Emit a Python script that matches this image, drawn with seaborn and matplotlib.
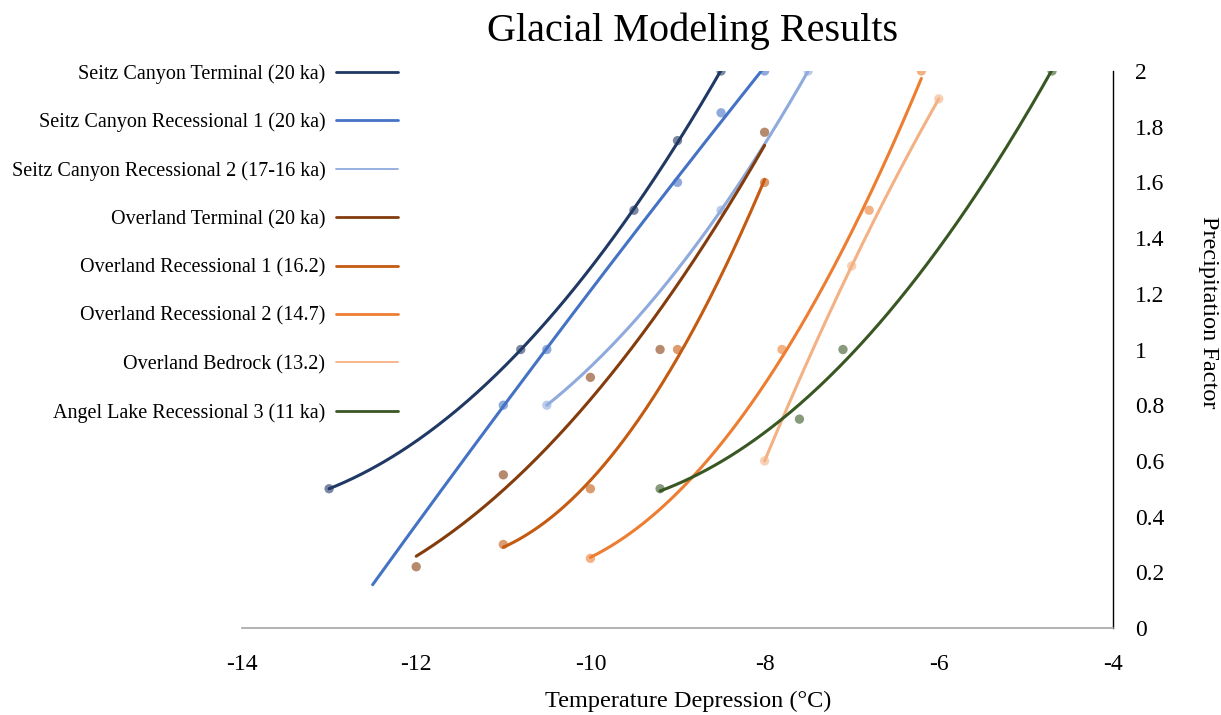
import numpy as np
import pandas as pd
import matplotlib
matplotlib.use("Agg")
import matplotlib.pyplot as plt
from matplotlib.lines import Line2D
import seaborn as sns

# ---- data ----
series_names = [
    "Seitz Canyon Terminal (20 ka)",
    "Seitz Canyon Recessional 1 (20 ka)",
    "Seitz Canyon Recessional 2 (17-16 ka)",
    "Overland Terminal (20 ka)",
    "Overland Recessional 1 (16.2)",
    "Overland Recessional 2 (14.7)",
    "Overland Bedrock (13.2)",
    "Angel Lake Recessional 3 (11 ka)",
]
sc_term_x = [-13.0, -10.8, -9.5, -9.0, -8.5]
sc_term_y = [0.5, 1.0, 1.5, 1.75, 2.0]
sc_rec1_x = [-11.0, -10.5, -9.0, -8.5, -8.0]
sc_rec1_y = [0.8, 1.0, 1.6, 1.85, 2.0]
sc_rec2_x = [-10.5, -8.5, -7.5]
sc_rec2_y = [0.8, 1.5, 2.0]
ov_term_x = [-12.0, -11.0, -10.0, -9.2, -8.0]
ov_term_y = [0.22, 0.55, 0.9, 1.0, 1.78]
ov_rec1_x = [-11.0, -10.0, -9.0, -8.0]
ov_rec1_y = [0.3, 0.5, 1.0, 1.6]
ov_rec2_x = [-10.0, -7.8, -6.8, -6.2]
ov_rec2_y = [0.25, 1.0, 1.5, 2.0]
ov_bed_x = [-8.0, -7.0, -6.0]
ov_bed_y = [0.6, 1.3, 1.9]
al_rec3_x = [-9.2, -7.6, -7.1, -4.7]
al_rec3_y = [0.5, 0.75, 1.0, 2.0]
# backward forecast of the trendline (x units), as in the source chart
backward_forecast = [0, 1.5, 0, 0, 0, 0, 0, 0]

xs_all = [sc_term_x, sc_rec1_x, sc_rec2_x, ov_term_x, ov_rec1_x, ov_rec2_x, ov_bed_x, al_rec3_x]
ys_all = [sc_term_y, sc_rec1_y, sc_rec2_y, ov_term_y, ov_rec1_y, ov_rec2_y, ov_bed_y, al_rec3_y]

colors = ["#203864", "#4472C4", "#8FAADC", "#843C0C", "#C55A11", "#ED7D31", "#F4B183", "#385723"]
palette = dict(zip(series_names, colors))

# build tables
pts = pd.concat([pd.DataFrame({"x": x, "y": y, "series": n})
                 for n, x, y in zip(series_names, xs_all, ys_all)], ignore_index=True)
trend_frames = []
for n, x, y, bf in zip(series_names, xs_all, ys_all, backward_forecast):
    c = np.polyfit(x, y, 2)
    xx = np.linspace(min(x) - bf, max(x), 200)
    trend_frames.append(pd.DataFrame({"x": xx, "y": np.polyval(c, xx), "series": n}))
trend = pd.concat(trend_frames, ignore_index=True)

# ---- plot ----
sns.set_theme(style="white")
plt.rcParams["font.family"] = ["Liberation Serif", "DejaVu Serif"]
plt.rcParams["text.color"] = "black"
plt.rcParams["xtick.color"] = "black"
plt.rcParams["ytick.color"] = "black"

fig = plt.figure(figsize=(12.21, 7.15), dpi=100)
ax = fig.add_axes([242 / 1221, 1 - 628 / 715, (1113 - 242) / 1221, (628 - 71) / 715])

sns.scatterplot(data=pts, x="x", y="y", hue="series", palette=palette, s=45,
                alpha=0.6, edgecolor="none", legend=False, ax=ax, zorder=2)
sns.lineplot(data=trend, x="x", y="y", hue="series", palette=palette, linewidth=2.2,
             legend=False, ax=ax, sort=False, estimator=None, zorder=3)

ax.set_xlim(-14, -4)
ax.set_ylim(0, 2)
ax.set_xticks(np.arange(-14, -3, 2))
ax.set_yticks(np.arange(0, 2.01, 0.2))
ax.set_xticklabels([f"{v:g}" for v in np.arange(-14, -3, 2)])
ax.set_yticklabels([f"{v:.1f}".rstrip("0").rstrip(".") if v != 0 else "0" for v in np.arange(0, 2.01, 0.2)])
ax.yaxis.tick_right()
ax.tick_params(axis="both", length=0, labelsize=17, colors="black")
ax.tick_params(axis="x", pad=19)
ax.tick_params(axis="y", pad=16)
for lab in ax.get_yticklabels():
    lab.set_ha("left")

ax.spines["left"].set_visible(False)
ax.spines["top"].set_visible(False)
ax.spines["right"].set_visible(True)
ax.spines["right"].set_color("black")
ax.spines["right"].set_linewidth(1.0)
ax.spines["bottom"].set_color("#a6a6a6")
ax.spines["bottom"].set_linewidth(1.2)
ax.grid(False)
ax.set_xlabel("")
ax.set_ylabel("")

fig.text(693 / 1221, 1 - 31 / 715, "Glacial Modeling Results", ha="center", va="center", fontsize=29)
fig.text(688 / 1221, 1 - 701 / 715, "Temperature Depression (°C)", ha="center", va="center", fontsize=17.5)
fig.text(1208 / 1221, 1 - 312 / 715, "Precipitation Factor", ha="center", va="center",
         rotation=270, fontsize=17.5)

handles = [Line2D([0], [0], color=c, lw=2.0 if c not in ("#F4B183", "#8FAADC") else 1.3) for c in colors]
leg = fig.legend(handles, series_names, loc="upper right", bbox_to_anchor=(398 / 1221, 1 - 64 / 715),
                 frameon=False, markerfirst=False, fontsize=14.5, handlelength=3.1,
                 handletextpad=0.5, labelspacing=1.44, borderaxespad=0, borderpad=0)

fig.savefig("out.png", dpi=100)
